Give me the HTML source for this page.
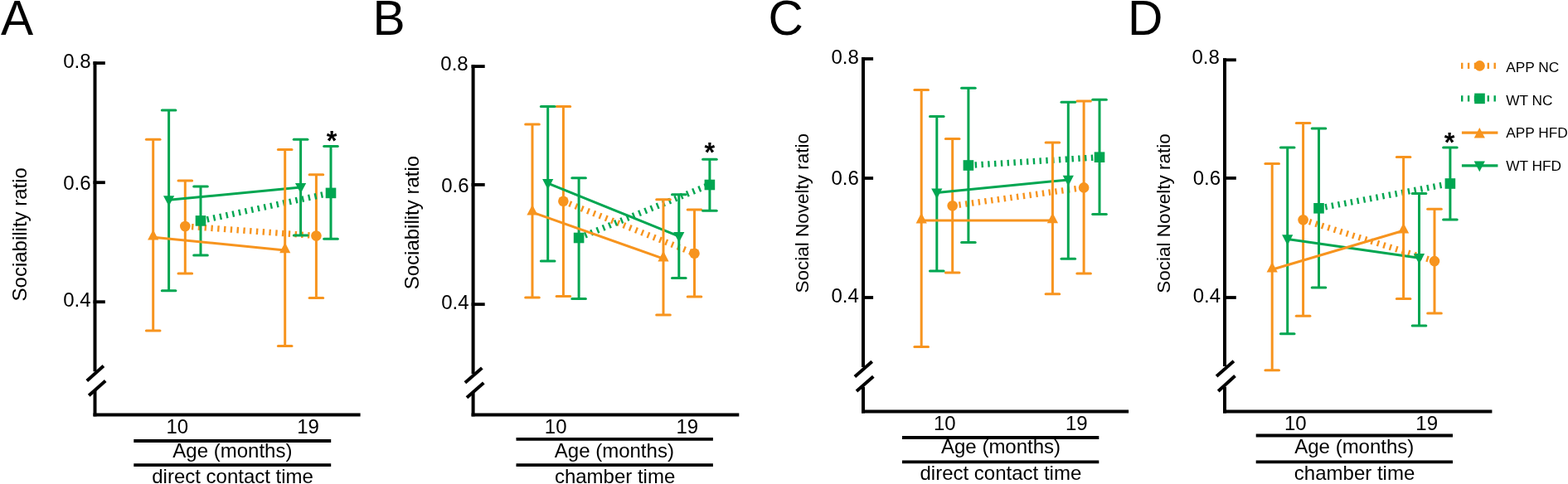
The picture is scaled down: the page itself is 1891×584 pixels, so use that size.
<!DOCTYPE html>
<html><head><meta charset="utf-8"><title>Figure</title>
<style>
html,body{margin:0;padding:0;background:#fff;}
body{width:1891px;height:584px;overflow:hidden;}
svg{display:block;}
svg text{font-family:'Liberation Sans', Arial, sans-serif;fill:#000;}
</style></head>
<body>
<svg width="1891" height="584" viewBox="0 0 1891 584">
<rect width="1891" height="584" fill="#fff"/>
<g>
<text x="0.92" y="41.95" font-size="58.7" text-anchor="start">A</text>
<line x1="114.50" y1="74.30" x2="114.50" y2="448.30" stroke="#000" stroke-width="4" stroke-linecap="butt"/>
<line x1="114.50" y1="470.90" x2="114.50" y2="502.40" stroke="#000" stroke-width="4" stroke-linecap="butt"/>
<line x1="112.50" y1="500.40" x2="434.60" y2="500.40" stroke="#000" stroke-width="4" stroke-linecap="butt"/>
<line x1="112.50" y1="76.10" x2="126.80" y2="76.10" stroke="#000" stroke-width="3.8" stroke-linecap="butt"/>
<text x="76.26" y="82.00" font-size="24" text-anchor="start">0.8</text>
<line x1="112.50" y1="220.20" x2="126.80" y2="220.20" stroke="#000" stroke-width="3.8" stroke-linecap="butt"/>
<text x="76.26" y="228.90" font-size="24" text-anchor="start">0.6</text>
<line x1="112.50" y1="364.25" x2="126.80" y2="364.25" stroke="#000" stroke-width="3.8" stroke-linecap="butt"/>
<text x="76.26" y="369.70" font-size="24" text-anchor="start">0.4</text>
<line x1="104.80" y1="459.60" x2="124.90" y2="441.50" stroke="#000" stroke-width="4" stroke-linecap="butt"/>
<line x1="107.20" y1="477.20" x2="127.20" y2="459.40" stroke="#000" stroke-width="4" stroke-linecap="butt"/>
<text transform="translate(31.70,282.75) rotate(-90)" font-size="24" text-anchor="middle">Sociability ratio</text>
<text x="200.47" y="522.50" font-size="24" text-anchor="start">10</text>
<text x="358.17" y="522.50" font-size="24" text-anchor="start">19</text>
<line x1="161.30" y1="532.00" x2="399.20" y2="532.00" stroke="#000" stroke-width="3.8" stroke-linecap="butt"/>
<line x1="161.30" y1="561.20" x2="399.20" y2="561.20" stroke="#000" stroke-width="3.8" stroke-linecap="butt"/>
<text x="280.40" y="551.60" font-size="24" text-anchor="middle">Age (months)</text>
<text x="280.60" y="582.90" font-size="24" text-anchor="middle">direct contact time</text>
<line x1="223.30" y1="217.90" x2="223.30" y2="330.00" stroke="#F7941E" stroke-width="3" stroke-linecap="butt"/>
<line x1="215.00" y1="217.90" x2="231.60" y2="217.90" stroke="#F7941E" stroke-width="3" stroke-linecap="round"/>
<line x1="215.00" y1="330.00" x2="231.60" y2="330.00" stroke="#F7941E" stroke-width="3" stroke-linecap="round"/>
<line x1="381.40" y1="210.70" x2="381.40" y2="359.40" stroke="#F7941E" stroke-width="3" stroke-linecap="butt"/>
<line x1="373.10" y1="210.70" x2="389.70" y2="210.70" stroke="#F7941E" stroke-width="3" stroke-linecap="round"/>
<line x1="373.10" y1="359.40" x2="389.70" y2="359.40" stroke="#F7941E" stroke-width="3" stroke-linecap="round"/>
<line x1="223.30" y1="273.00" x2="381.40" y2="284.50" stroke="#F7941E" stroke-width="7.4" stroke-linecap="butt" stroke-dasharray="2.4 5.4" stroke-dashoffset="0"/>
<circle cx="223.30" cy="273.00" r="6.30" fill="#F7941E"/>
<circle cx="381.40" cy="284.50" r="6.30" fill="#F7941E"/>
<line x1="242.00" y1="225.00" x2="242.00" y2="308.10" stroke="#00A651" stroke-width="3" stroke-linecap="butt"/>
<line x1="233.70" y1="225.00" x2="250.30" y2="225.00" stroke="#00A651" stroke-width="3" stroke-linecap="round"/>
<line x1="233.70" y1="308.10" x2="250.30" y2="308.10" stroke="#00A651" stroke-width="3" stroke-linecap="round"/>
<line x1="399.00" y1="176.60" x2="399.00" y2="288.20" stroke="#00A651" stroke-width="3" stroke-linecap="butt"/>
<line x1="390.70" y1="176.60" x2="407.30" y2="176.60" stroke="#00A651" stroke-width="3" stroke-linecap="round"/>
<line x1="390.70" y1="288.20" x2="407.30" y2="288.20" stroke="#00A651" stroke-width="3" stroke-linecap="round"/>
<line x1="242.00" y1="266.40" x2="399.00" y2="232.90" stroke="#00A651" stroke-width="7.4" stroke-linecap="butt" stroke-dasharray="2.4 5.4" stroke-dashoffset="0"/>
<rect x="235.70" y="260.10" width="12.60" height="12.60" fill="#00A651"/>
<rect x="392.70" y="226.60" width="12.60" height="12.60" fill="#00A651"/>
<line x1="203.60" y1="133.00" x2="203.60" y2="350.70" stroke="#00A651" stroke-width="3" stroke-linecap="butt"/>
<line x1="195.30" y1="133.00" x2="211.90" y2="133.00" stroke="#00A651" stroke-width="3" stroke-linecap="round"/>
<line x1="195.30" y1="350.70" x2="211.90" y2="350.70" stroke="#00A651" stroke-width="3" stroke-linecap="round"/>
<line x1="362.60" y1="168.20" x2="362.60" y2="284.10" stroke="#00A651" stroke-width="3" stroke-linecap="butt"/>
<line x1="354.30" y1="168.20" x2="370.90" y2="168.20" stroke="#00A651" stroke-width="3" stroke-linecap="round"/>
<line x1="354.30" y1="284.10" x2="370.90" y2="284.10" stroke="#00A651" stroke-width="3" stroke-linecap="round"/>
<line x1="203.60" y1="241.30" x2="362.60" y2="226.10" stroke="#00A651" stroke-width="3" stroke-linecap="butt"/>
<polygon points="197.00,236.20 210.20,236.20 203.60,248.80" fill="#00A651"/>
<polygon points="356.00,221.00 369.20,221.00 362.60,233.60" fill="#00A651"/>
<line x1="184.70" y1="168.30" x2="184.70" y2="399.00" stroke="#F7941E" stroke-width="3" stroke-linecap="butt"/>
<line x1="176.40" y1="168.30" x2="193.00" y2="168.30" stroke="#F7941E" stroke-width="3" stroke-linecap="round"/>
<line x1="176.40" y1="399.00" x2="193.00" y2="399.00" stroke="#F7941E" stroke-width="3" stroke-linecap="round"/>
<line x1="343.70" y1="180.40" x2="343.70" y2="417.40" stroke="#F7941E" stroke-width="3" stroke-linecap="butt"/>
<line x1="335.40" y1="180.40" x2="352.00" y2="180.40" stroke="#F7941E" stroke-width="3" stroke-linecap="round"/>
<line x1="335.40" y1="417.40" x2="352.00" y2="417.40" stroke="#F7941E" stroke-width="3" stroke-linecap="round"/>
<line x1="184.70" y1="286.20" x2="343.70" y2="301.90" stroke="#F7941E" stroke-width="3" stroke-linecap="butt"/>
<polygon points="184.70,276.90 191.30,289.50 178.10,289.50" fill="#F7941E"/>
<polygon points="343.70,292.60 350.30,305.20 337.10,305.20" fill="#F7941E"/>
<text x="400.10" y="180.95" font-size="32.5" text-anchor="middle" font-weight="bold">*</text>
</g>
<g>
<text x="449.40" y="42.00" font-size="58.7" text-anchor="start">B</text>
<line x1="570.60" y1="78.30" x2="570.60" y2="451.30" stroke="#000" stroke-width="4" stroke-linecap="butt"/>
<line x1="570.60" y1="473.90" x2="570.60" y2="502.40" stroke="#000" stroke-width="4" stroke-linecap="butt"/>
<line x1="568.60" y1="500.40" x2="891.30" y2="500.40" stroke="#000" stroke-width="4" stroke-linecap="butt"/>
<line x1="568.60" y1="80.10" x2="584.70" y2="80.10" stroke="#000" stroke-width="3.8" stroke-linecap="butt"/>
<text x="531.30" y="84.70" font-size="24" text-anchor="start">0.8</text>
<line x1="568.60" y1="222.90" x2="584.70" y2="222.90" stroke="#000" stroke-width="3.8" stroke-linecap="butt"/>
<text x="532.20" y="231.50" font-size="24" text-anchor="start">0.6</text>
<line x1="568.60" y1="367.20" x2="584.70" y2="367.20" stroke="#000" stroke-width="3.8" stroke-linecap="butt"/>
<text x="532.20" y="372.60" font-size="24" text-anchor="start">0.4</text>
<line x1="560.90" y1="461.80" x2="581.30" y2="444.10" stroke="#000" stroke-width="4" stroke-linecap="butt"/>
<line x1="563.00" y1="479.70" x2="583.30" y2="462.00" stroke="#000" stroke-width="4" stroke-linecap="butt"/>
<text transform="translate(504.80,268.60) rotate(-90)" font-size="24" text-anchor="middle">Sociability ratio</text>
<text x="656.87" y="522.50" font-size="24" text-anchor="start">10</text>
<text x="815.47" y="522.50" font-size="24" text-anchor="start">19</text>
<line x1="622.50" y1="529.80" x2="859.90" y2="529.80" stroke="#000" stroke-width="3.8" stroke-linecap="butt"/>
<line x1="622.50" y1="561.20" x2="859.90" y2="561.20" stroke="#000" stroke-width="3.8" stroke-linecap="butt"/>
<text x="740.85" y="551.60" font-size="24" text-anchor="middle">Age (months)</text>
<text x="741.60" y="582.90" font-size="24" text-anchor="middle">chamber time</text>
<line x1="679.40" y1="128.50" x2="679.40" y2="357.50" stroke="#F7941E" stroke-width="3" stroke-linecap="butt"/>
<line x1="671.10" y1="128.50" x2="687.70" y2="128.50" stroke="#F7941E" stroke-width="3" stroke-linecap="round"/>
<line x1="671.10" y1="357.50" x2="687.70" y2="357.50" stroke="#F7941E" stroke-width="3" stroke-linecap="round"/>
<line x1="837.50" y1="252.90" x2="837.50" y2="358.10" stroke="#F7941E" stroke-width="3" stroke-linecap="butt"/>
<line x1="829.20" y1="252.90" x2="845.80" y2="252.90" stroke="#F7941E" stroke-width="3" stroke-linecap="round"/>
<line x1="829.20" y1="358.10" x2="845.80" y2="358.10" stroke="#F7941E" stroke-width="3" stroke-linecap="round"/>
<line x1="679.40" y1="242.80" x2="837.50" y2="305.80" stroke="#F7941E" stroke-width="7.4" stroke-linecap="butt" stroke-dasharray="2.4 5.4" stroke-dashoffset="0"/>
<circle cx="679.40" cy="242.80" r="6.30" fill="#F7941E"/>
<circle cx="837.50" cy="305.80" r="6.30" fill="#F7941E"/>
<line x1="698.10" y1="214.80" x2="698.10" y2="360.40" stroke="#00A651" stroke-width="3" stroke-linecap="butt"/>
<line x1="689.80" y1="214.80" x2="706.40" y2="214.80" stroke="#00A651" stroke-width="3" stroke-linecap="round"/>
<line x1="689.80" y1="360.40" x2="706.40" y2="360.40" stroke="#00A651" stroke-width="3" stroke-linecap="round"/>
<line x1="855.90" y1="192.30" x2="855.90" y2="254.20" stroke="#00A651" stroke-width="3" stroke-linecap="butt"/>
<line x1="847.60" y1="192.30" x2="864.20" y2="192.30" stroke="#00A651" stroke-width="3" stroke-linecap="round"/>
<line x1="847.60" y1="254.20" x2="864.20" y2="254.20" stroke="#00A651" stroke-width="3" stroke-linecap="round"/>
<line x1="698.10" y1="287.00" x2="855.90" y2="223.00" stroke="#00A651" stroke-width="7.4" stroke-linecap="butt" stroke-dasharray="2.4 5.4" stroke-dashoffset="0"/>
<rect x="691.80" y="280.70" width="12.60" height="12.60" fill="#00A651"/>
<rect x="849.60" y="216.70" width="12.60" height="12.60" fill="#00A651"/>
<line x1="660.70" y1="128.50" x2="660.70" y2="314.90" stroke="#00A651" stroke-width="3" stroke-linecap="butt"/>
<line x1="652.40" y1="128.50" x2="669.00" y2="128.50" stroke="#00A651" stroke-width="3" stroke-linecap="round"/>
<line x1="652.40" y1="314.90" x2="669.00" y2="314.90" stroke="#00A651" stroke-width="3" stroke-linecap="round"/>
<line x1="818.80" y1="234.80" x2="818.80" y2="335.50" stroke="#00A651" stroke-width="3" stroke-linecap="butt"/>
<line x1="810.50" y1="234.80" x2="827.10" y2="234.80" stroke="#00A651" stroke-width="3" stroke-linecap="round"/>
<line x1="810.50" y1="335.50" x2="827.10" y2="335.50" stroke="#00A651" stroke-width="3" stroke-linecap="round"/>
<line x1="660.70" y1="221.20" x2="818.80" y2="285.10" stroke="#00A651" stroke-width="3" stroke-linecap="butt"/>
<polygon points="654.10,216.10 667.30,216.10 660.70,228.70" fill="#00A651"/>
<polygon points="812.20,280.00 825.40,280.00 818.80,292.60" fill="#00A651"/>
<line x1="642.00" y1="150.00" x2="642.00" y2="359.10" stroke="#F7941E" stroke-width="3" stroke-linecap="butt"/>
<line x1="633.70" y1="150.00" x2="650.30" y2="150.00" stroke="#F7941E" stroke-width="3" stroke-linecap="round"/>
<line x1="633.70" y1="359.10" x2="650.30" y2="359.10" stroke="#F7941E" stroke-width="3" stroke-linecap="round"/>
<line x1="800.00" y1="240.70" x2="800.00" y2="379.90" stroke="#F7941E" stroke-width="3" stroke-linecap="butt"/>
<line x1="791.70" y1="240.70" x2="808.30" y2="240.70" stroke="#F7941E" stroke-width="3" stroke-linecap="round"/>
<line x1="791.70" y1="379.90" x2="808.30" y2="379.90" stroke="#F7941E" stroke-width="3" stroke-linecap="round"/>
<line x1="642.00" y1="256.20" x2="800.00" y2="312.10" stroke="#F7941E" stroke-width="3" stroke-linecap="butt"/>
<polygon points="642.00,246.90 648.60,259.50 635.40,259.50" fill="#F7941E"/>
<polygon points="800.00,302.80 806.60,315.40 793.40,315.40" fill="#F7941E"/>
<text x="855.90" y="194.75" font-size="32.5" text-anchor="middle" font-weight="bold">*</text>
</g>
<g>
<text x="926.60" y="42.20" font-size="58.7" text-anchor="start">C</text>
<line x1="1041.00" y1="69.10" x2="1041.00" y2="443.10" stroke="#000" stroke-width="4" stroke-linecap="butt"/>
<line x1="1041.00" y1="466.70" x2="1041.00" y2="498.50" stroke="#000" stroke-width="4" stroke-linecap="butt"/>
<line x1="1039.00" y1="496.50" x2="1361.10" y2="496.50" stroke="#000" stroke-width="4" stroke-linecap="butt"/>
<line x1="1039.00" y1="71.00" x2="1053.10" y2="71.00" stroke="#000" stroke-width="3.8" stroke-linecap="butt"/>
<text x="1002.50" y="77.30" font-size="24" text-anchor="start">0.8</text>
<line x1="1039.00" y1="215.00" x2="1053.10" y2="215.00" stroke="#000" stroke-width="3.8" stroke-linecap="butt"/>
<text x="1002.50" y="223.00" font-size="24" text-anchor="start">0.6</text>
<line x1="1039.00" y1="359.00" x2="1053.10" y2="359.00" stroke="#000" stroke-width="3.8" stroke-linecap="butt"/>
<text x="1002.50" y="365.00" font-size="24" text-anchor="start">0.4</text>
<line x1="1030.90" y1="454.60" x2="1051.70" y2="436.30" stroke="#000" stroke-width="4" stroke-linecap="butt"/>
<line x1="1033.00" y1="472.10" x2="1053.30" y2="454.20" stroke="#000" stroke-width="4" stroke-linecap="butt"/>
<text transform="translate(975.10,257.20) rotate(-90)" font-size="22.5" text-anchor="middle">Social Novelty ratio</text>
<text x="1125.97" y="518.70" font-size="24" text-anchor="start">10</text>
<text x="1284.97" y="518.70" font-size="24" text-anchor="start">19</text>
<line x1="1088.00" y1="528.00" x2="1325.30" y2="528.00" stroke="#000" stroke-width="3.8" stroke-linecap="butt"/>
<line x1="1088.00" y1="557.30" x2="1325.30" y2="557.30" stroke="#000" stroke-width="3.8" stroke-linecap="butt"/>
<text x="1207.05" y="547.40" font-size="24" text-anchor="middle">Age (months)</text>
<text x="1206.90" y="578.70" font-size="24" text-anchor="middle">direct contact time</text>
<line x1="1148.70" y1="167.40" x2="1148.70" y2="329.10" stroke="#F7941E" stroke-width="3" stroke-linecap="butt"/>
<line x1="1140.40" y1="167.40" x2="1157.00" y2="167.40" stroke="#F7941E" stroke-width="3" stroke-linecap="round"/>
<line x1="1140.40" y1="329.10" x2="1157.00" y2="329.10" stroke="#F7941E" stroke-width="3" stroke-linecap="round"/>
<line x1="1307.10" y1="121.90" x2="1307.10" y2="330.00" stroke="#F7941E" stroke-width="3" stroke-linecap="butt"/>
<line x1="1298.80" y1="121.90" x2="1315.40" y2="121.90" stroke="#F7941E" stroke-width="3" stroke-linecap="round"/>
<line x1="1298.80" y1="330.00" x2="1315.40" y2="330.00" stroke="#F7941E" stroke-width="3" stroke-linecap="round"/>
<line x1="1148.70" y1="248.30" x2="1307.10" y2="226.40" stroke="#F7941E" stroke-width="7.4" stroke-linecap="butt" stroke-dasharray="2.4 5.4" stroke-dashoffset="0"/>
<circle cx="1148.70" cy="248.30" r="6.30" fill="#F7941E"/>
<circle cx="1307.10" cy="226.40" r="6.30" fill="#F7941E"/>
<line x1="1167.90" y1="106.30" x2="1167.90" y2="292.60" stroke="#00A651" stroke-width="3" stroke-linecap="butt"/>
<line x1="1159.60" y1="106.30" x2="1176.20" y2="106.30" stroke="#00A651" stroke-width="3" stroke-linecap="round"/>
<line x1="1159.60" y1="292.60" x2="1176.20" y2="292.60" stroke="#00A651" stroke-width="3" stroke-linecap="round"/>
<line x1="1326.00" y1="120.30" x2="1326.00" y2="258.60" stroke="#00A651" stroke-width="3" stroke-linecap="butt"/>
<line x1="1317.70" y1="120.30" x2="1334.30" y2="120.30" stroke="#00A651" stroke-width="3" stroke-linecap="round"/>
<line x1="1317.70" y1="258.60" x2="1334.30" y2="258.60" stroke="#00A651" stroke-width="3" stroke-linecap="round"/>
<line x1="1167.90" y1="199.50" x2="1326.00" y2="189.70" stroke="#00A651" stroke-width="7.4" stroke-linecap="butt" stroke-dasharray="2.4 5.4" stroke-dashoffset="0"/>
<rect x="1161.60" y="193.20" width="12.60" height="12.60" fill="#00A651"/>
<rect x="1319.70" y="183.40" width="12.60" height="12.60" fill="#00A651"/>
<line x1="1129.80" y1="140.40" x2="1129.80" y2="327.10" stroke="#00A651" stroke-width="3" stroke-linecap="butt"/>
<line x1="1121.50" y1="140.40" x2="1138.10" y2="140.40" stroke="#00A651" stroke-width="3" stroke-linecap="round"/>
<line x1="1121.50" y1="327.10" x2="1138.10" y2="327.10" stroke="#00A651" stroke-width="3" stroke-linecap="round"/>
<line x1="1288.30" y1="123.20" x2="1288.30" y2="312.20" stroke="#00A651" stroke-width="3" stroke-linecap="butt"/>
<line x1="1280.00" y1="123.20" x2="1296.60" y2="123.20" stroke="#00A651" stroke-width="3" stroke-linecap="round"/>
<line x1="1280.00" y1="312.20" x2="1296.60" y2="312.20" stroke="#00A651" stroke-width="3" stroke-linecap="round"/>
<line x1="1129.80" y1="232.50" x2="1288.30" y2="216.90" stroke="#00A651" stroke-width="3" stroke-linecap="butt"/>
<polygon points="1123.20,227.40 1136.40,227.40 1129.80,240.00" fill="#00A651"/>
<polygon points="1281.70,211.80 1294.90,211.80 1288.30,224.40" fill="#00A651"/>
<line x1="1111.20" y1="108.50" x2="1111.20" y2="418.60" stroke="#F7941E" stroke-width="3" stroke-linecap="butt"/>
<line x1="1102.90" y1="108.50" x2="1119.50" y2="108.50" stroke="#F7941E" stroke-width="3" stroke-linecap="round"/>
<line x1="1102.90" y1="418.60" x2="1119.50" y2="418.60" stroke="#F7941E" stroke-width="3" stroke-linecap="round"/>
<line x1="1269.40" y1="172.00" x2="1269.40" y2="354.80" stroke="#F7941E" stroke-width="3" stroke-linecap="butt"/>
<line x1="1261.10" y1="172.00" x2="1277.70" y2="172.00" stroke="#F7941E" stroke-width="3" stroke-linecap="round"/>
<line x1="1261.10" y1="354.80" x2="1277.70" y2="354.80" stroke="#F7941E" stroke-width="3" stroke-linecap="round"/>
<line x1="1111.20" y1="266.10" x2="1269.40" y2="266.00" stroke="#F7941E" stroke-width="3" stroke-linecap="butt"/>
<polygon points="1111.20,256.80 1117.80,269.40 1104.60,269.40" fill="#F7941E"/>
<polygon points="1269.40,256.70 1276.00,269.30 1262.80,269.30" fill="#F7941E"/>
</g>
<g>
<text x="1360.00" y="42.00" font-size="58.7" text-anchor="start">D</text>
<line x1="1477.00" y1="70.30" x2="1477.00" y2="442.10" stroke="#000" stroke-width="4" stroke-linecap="butt"/>
<line x1="1477.00" y1="466.70" x2="1477.00" y2="498.50" stroke="#000" stroke-width="4" stroke-linecap="butt"/>
<line x1="1475.00" y1="496.50" x2="1799.40" y2="496.50" stroke="#000" stroke-width="4" stroke-linecap="butt"/>
<line x1="1475.00" y1="72.30" x2="1490.80" y2="72.30" stroke="#000" stroke-width="3.8" stroke-linecap="butt"/>
<text x="1437.50" y="77.30" font-size="24" text-anchor="start">0.8</text>
<line x1="1475.00" y1="214.90" x2="1490.80" y2="214.90" stroke="#000" stroke-width="3.8" stroke-linecap="butt"/>
<text x="1438.70" y="222.90" font-size="24" text-anchor="start">0.6</text>
<line x1="1475.00" y1="359.00" x2="1490.80" y2="359.00" stroke="#000" stroke-width="3.8" stroke-linecap="butt"/>
<text x="1438.70" y="365.00" font-size="24" text-anchor="start">0.4</text>
<line x1="1467.10" y1="454.00" x2="1487.90" y2="435.70" stroke="#000" stroke-width="4" stroke-linecap="butt"/>
<line x1="1469.20" y1="471.90" x2="1489.50" y2="453.40" stroke="#000" stroke-width="4" stroke-linecap="butt"/>
<text transform="translate(1411.30,257.50) rotate(-90)" font-size="22.5" text-anchor="middle">Social Novelty ratio</text>
<text x="1548.97" y="518.70" font-size="24" text-anchor="start">10</text>
<text x="1707.37" y="518.70" font-size="24" text-anchor="start">19</text>
<line x1="1514.70" y1="525.50" x2="1752.00" y2="525.50" stroke="#000" stroke-width="3.8" stroke-linecap="butt"/>
<line x1="1514.70" y1="557.30" x2="1752.00" y2="557.30" stroke="#000" stroke-width="3.8" stroke-linecap="butt"/>
<text x="1633.30" y="547.40" font-size="24" text-anchor="middle">Age (months)</text>
<text x="1633.55" y="578.70" font-size="24" text-anchor="middle">chamber time</text>
<line x1="1571.60" y1="148.60" x2="1571.60" y2="381.30" stroke="#F7941E" stroke-width="3" stroke-linecap="butt"/>
<line x1="1563.30" y1="148.60" x2="1579.90" y2="148.60" stroke="#F7941E" stroke-width="3" stroke-linecap="round"/>
<line x1="1563.30" y1="381.30" x2="1579.90" y2="381.30" stroke="#F7941E" stroke-width="3" stroke-linecap="round"/>
<line x1="1730.00" y1="252.30" x2="1730.00" y2="378.00" stroke="#F7941E" stroke-width="3" stroke-linecap="butt"/>
<line x1="1721.70" y1="252.30" x2="1738.30" y2="252.30" stroke="#F7941E" stroke-width="3" stroke-linecap="round"/>
<line x1="1721.70" y1="378.00" x2="1738.30" y2="378.00" stroke="#F7941E" stroke-width="3" stroke-linecap="round"/>
<line x1="1571.60" y1="265.20" x2="1730.00" y2="315.10" stroke="#F7941E" stroke-width="7.4" stroke-linecap="butt" stroke-dasharray="2.4 5.4" stroke-dashoffset="0"/>
<circle cx="1571.60" cy="265.20" r="6.30" fill="#F7941E"/>
<circle cx="1730.00" cy="315.10" r="6.30" fill="#F7941E"/>
<line x1="1590.50" y1="155.10" x2="1590.50" y2="347.10" stroke="#00A651" stroke-width="3" stroke-linecap="butt"/>
<line x1="1582.20" y1="155.10" x2="1598.80" y2="155.10" stroke="#00A651" stroke-width="3" stroke-linecap="round"/>
<line x1="1582.20" y1="347.10" x2="1598.80" y2="347.10" stroke="#00A651" stroke-width="3" stroke-linecap="round"/>
<line x1="1748.90" y1="177.90" x2="1748.90" y2="265.10" stroke="#00A651" stroke-width="3" stroke-linecap="butt"/>
<line x1="1740.60" y1="177.90" x2="1757.20" y2="177.90" stroke="#00A651" stroke-width="3" stroke-linecap="round"/>
<line x1="1740.60" y1="265.10" x2="1757.20" y2="265.10" stroke="#00A651" stroke-width="3" stroke-linecap="round"/>
<line x1="1590.50" y1="251.30" x2="1748.90" y2="221.50" stroke="#00A651" stroke-width="7.4" stroke-linecap="butt" stroke-dasharray="2.4 5.4" stroke-dashoffset="0"/>
<rect x="1584.20" y="245.00" width="12.60" height="12.60" fill="#00A651"/>
<rect x="1742.60" y="215.20" width="12.60" height="12.60" fill="#00A651"/>
<line x1="1552.70" y1="177.90" x2="1552.70" y2="402.80" stroke="#00A651" stroke-width="3" stroke-linecap="butt"/>
<line x1="1544.40" y1="177.90" x2="1561.00" y2="177.90" stroke="#00A651" stroke-width="3" stroke-linecap="round"/>
<line x1="1544.40" y1="402.80" x2="1561.00" y2="402.80" stroke="#00A651" stroke-width="3" stroke-linecap="round"/>
<line x1="1711.50" y1="233.40" x2="1711.50" y2="393.00" stroke="#00A651" stroke-width="3" stroke-linecap="butt"/>
<line x1="1703.20" y1="233.40" x2="1719.80" y2="233.40" stroke="#00A651" stroke-width="3" stroke-linecap="round"/>
<line x1="1703.20" y1="393.00" x2="1719.80" y2="393.00" stroke="#00A651" stroke-width="3" stroke-linecap="round"/>
<line x1="1552.70" y1="288.40" x2="1711.50" y2="311.20" stroke="#00A651" stroke-width="3" stroke-linecap="butt"/>
<polygon points="1546.10,283.30 1559.30,283.30 1552.70,295.90" fill="#00A651"/>
<polygon points="1704.90,306.10 1718.10,306.10 1711.50,318.70" fill="#00A651"/>
<line x1="1534.20" y1="197.40" x2="1534.20" y2="446.70" stroke="#F7941E" stroke-width="3" stroke-linecap="butt"/>
<line x1="1525.90" y1="197.40" x2="1542.50" y2="197.40" stroke="#F7941E" stroke-width="3" stroke-linecap="round"/>
<line x1="1525.90" y1="446.70" x2="1542.50" y2="446.70" stroke="#F7941E" stroke-width="3" stroke-linecap="round"/>
<line x1="1692.60" y1="189.60" x2="1692.60" y2="360.50" stroke="#F7941E" stroke-width="3" stroke-linecap="butt"/>
<line x1="1684.30" y1="189.60" x2="1700.90" y2="189.60" stroke="#F7941E" stroke-width="3" stroke-linecap="round"/>
<line x1="1684.30" y1="360.50" x2="1700.90" y2="360.50" stroke="#F7941E" stroke-width="3" stroke-linecap="round"/>
<line x1="1534.20" y1="325.30" x2="1692.60" y2="278.20" stroke="#F7941E" stroke-width="3" stroke-linecap="butt"/>
<polygon points="1534.20,316.00 1540.80,328.60 1527.60,328.60" fill="#F7941E"/>
<polygon points="1692.60,268.90 1699.20,281.50 1686.00,281.50" fill="#F7941E"/>
<text x="1748.05" y="182.85" font-size="32.5" text-anchor="middle" font-weight="bold">*</text>
</g>
<line x1="1762.00" y1="79.40" x2="1806.40" y2="79.40" stroke="#F7941E" stroke-width="7.4" stroke-linecap="butt" stroke-dasharray="2.4 5.5"/>
<circle cx="1784.50" cy="79.40" r="6.30" fill="#F7941E"/>
<text x="1816.20" y="86.70" font-size="17.3" text-anchor="start">APP NC</text>
<line x1="1762.00" y1="118.90" x2="1806.40" y2="118.90" stroke="#00A651" stroke-width="7.4" stroke-linecap="butt" stroke-dasharray="2.4 5.5"/>
<rect x="1778.20" y="112.60" width="12.60" height="12.60" fill="#00A651"/>
<text x="1816.20" y="127.20" font-size="17.3" text-anchor="start">WT NC</text>
<line x1="1762.90" y1="160.10" x2="1806.40" y2="160.10" stroke="#F7941E" stroke-width="3.2" stroke-linecap="butt"/>
<polygon points="1784.30,154.00 1790.90,166.60 1777.70,166.60" fill="#F7941E"/>
<text x="1816.20" y="166.40" font-size="17.3" text-anchor="start">APP HFD</text>
<line x1="1762.90" y1="199.90" x2="1806.40" y2="199.90" stroke="#00A651" stroke-width="3.2" stroke-linecap="butt"/>
<polygon points="1777.70,194.60 1790.90,194.60 1784.30,207.20" fill="#00A651"/>
<text x="1816.20" y="206.00" font-size="17.3" text-anchor="start">WT HFD</text>
</svg>
</body></html>
